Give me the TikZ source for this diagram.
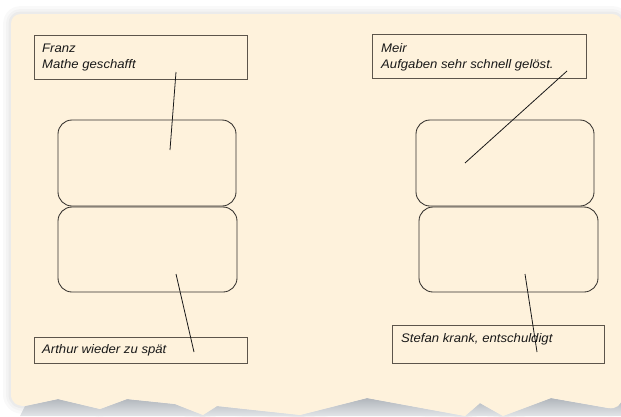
\documentclass[tikz,border=0pt]{standalone}
\usepackage{fontspec}
\setmainfont{Liberation Sans}
\newfontfamily\notefont{Liberation Sans}[FakeStretch=1.06]
\definecolor{paper}{RGB}{254,242,220}
\definecolor{boxline}{RGB}{92,85,75}
\definecolor{rboxline}{RGB}{52,49,45}
\definecolor{shadetop}{RGB}{176,181,187}
\definecolor{shadebot}{RGB}{226,229,232}
\begin{document}
\begin{tikzpicture}[x=1pt,y=-1pt,
  notebox/.style={draw=boxline, line width=0.95pt, rectangle, inner sep=0pt},
  rbox/.style={draw=rboxline, line width=0.85pt, rectangle, rounded corners=14pt, inner sep=0pt},
  notetext/.style={anchor=base west, inner sep=0pt, font=\notefont\itshape\fontsize{12.4}{14}\selectfont, text=black!90},
  conn/.style={draw=black!90, line width=0.8pt}]
\def\paperpath{(25,406) -- (58,399) -- (100,409) -- (127,399) -- (175,404) -- (203,415) -- (217,406) -- (300,415) -- (367,398) -- (465,416) -- (480,403) -- (503,416) -- (551,398) -- (608,408) .. controls (616,409.5) and (622,405) .. (622,397) -- (622,24) .. controls (622,18) and (618,14) .. (612,14) -- (21,14) .. controls (15,14) and (11,18) .. (11,24) -- (11,394) .. controls (11,402) and (16,406) .. (25,406) -- cycle}
% background
\fill[white] (0,0) rectangle (621,416);
\useasboundingbox (0,0) rectangle (621,416);
% soft shadow
\draw[black, opacity=0.025, line width=16pt, line join=round] \paperpath;
\draw[black, opacity=0.025, line width=10pt, line join=round] \paperpath;
\draw[black, opacity=0.03, line width=5pt, line join=round] \paperpath;
% grey under the torn edge
\shade[top color=shadetop, bottom color=shadebot] (20,416) -- (25,406) -- (58,399) -- (100,409) -- (127,399) -- (175,404) -- (203,415) -- (217,406) -- (300,415) -- (367,398) -- (465,416) -- (480,403) -- (503,416) -- (551,398) -- (608,408) -- (622,400) -- (622,416) -- cycle;
% paper
\fill[paper] \paperpath;

% note boxes
\node[notebox, minimum width=213pt, minimum height=44pt] (franzbox) at (140.5,57) {};
\node[notebox, minimum width=214pt, minimum height=44pt] (meirbox) at (479,56) {};
\node[notebox, minimum width=213pt, minimum height=26pt] (arthurbox) at (140.5,350) {};
\node[notebox, minimum width=212pt, minimum height=38pt] (stefanbox) at (498,344) {};

% texts
\node[notetext] (franz) at (42,52) {Franz};
\node[notetext] (mathe) at (42,68.5) {Mathe geschafft};
\node[notetext] (meir) at (381,52) {Meir};
\node[notetext] (aufg) at (381,68.5) {Aufgaben sehr schnell gelöst.};
\node[notetext] (arthur) at (42,353) {Arthur wieder zu spät};
\node[notetext] (stefan) at (401,342) {Stefan krank, entschuldigt};

% rounded boxes
\node[rbox, minimum width=178pt, minimum height=86pt] (lt) at (147,163) {};
\node[rbox, minimum width=179pt, minimum height=85pt] (lb) at (147.5,249.5) {};
\node[rbox, minimum width=178pt, minimum height=86pt] (rt) at (505,163) {};
\node[rbox, minimum width=179pt, minimum height=85pt] (rb) at (508.5,249.5) {};

% connector ends
\coordinate (f1) at (176,72);
\coordinate (f2) at (170,150);
\coordinate (m1) at (567,71);
\coordinate (m2) at (465,163);
\coordinate (a1) at (176,274);
\coordinate (a2) at (194,352);
\coordinate (s1) at (525,274);
\coordinate (s2) at (537,352);

\draw[conn] (f1) -- (f2);
\draw[conn] (m1) -- (m2);
\draw[conn] (a1) -- (a2);
\draw[conn] (s1) -- (s2);
\end{tikzpicture}
\end{document}
